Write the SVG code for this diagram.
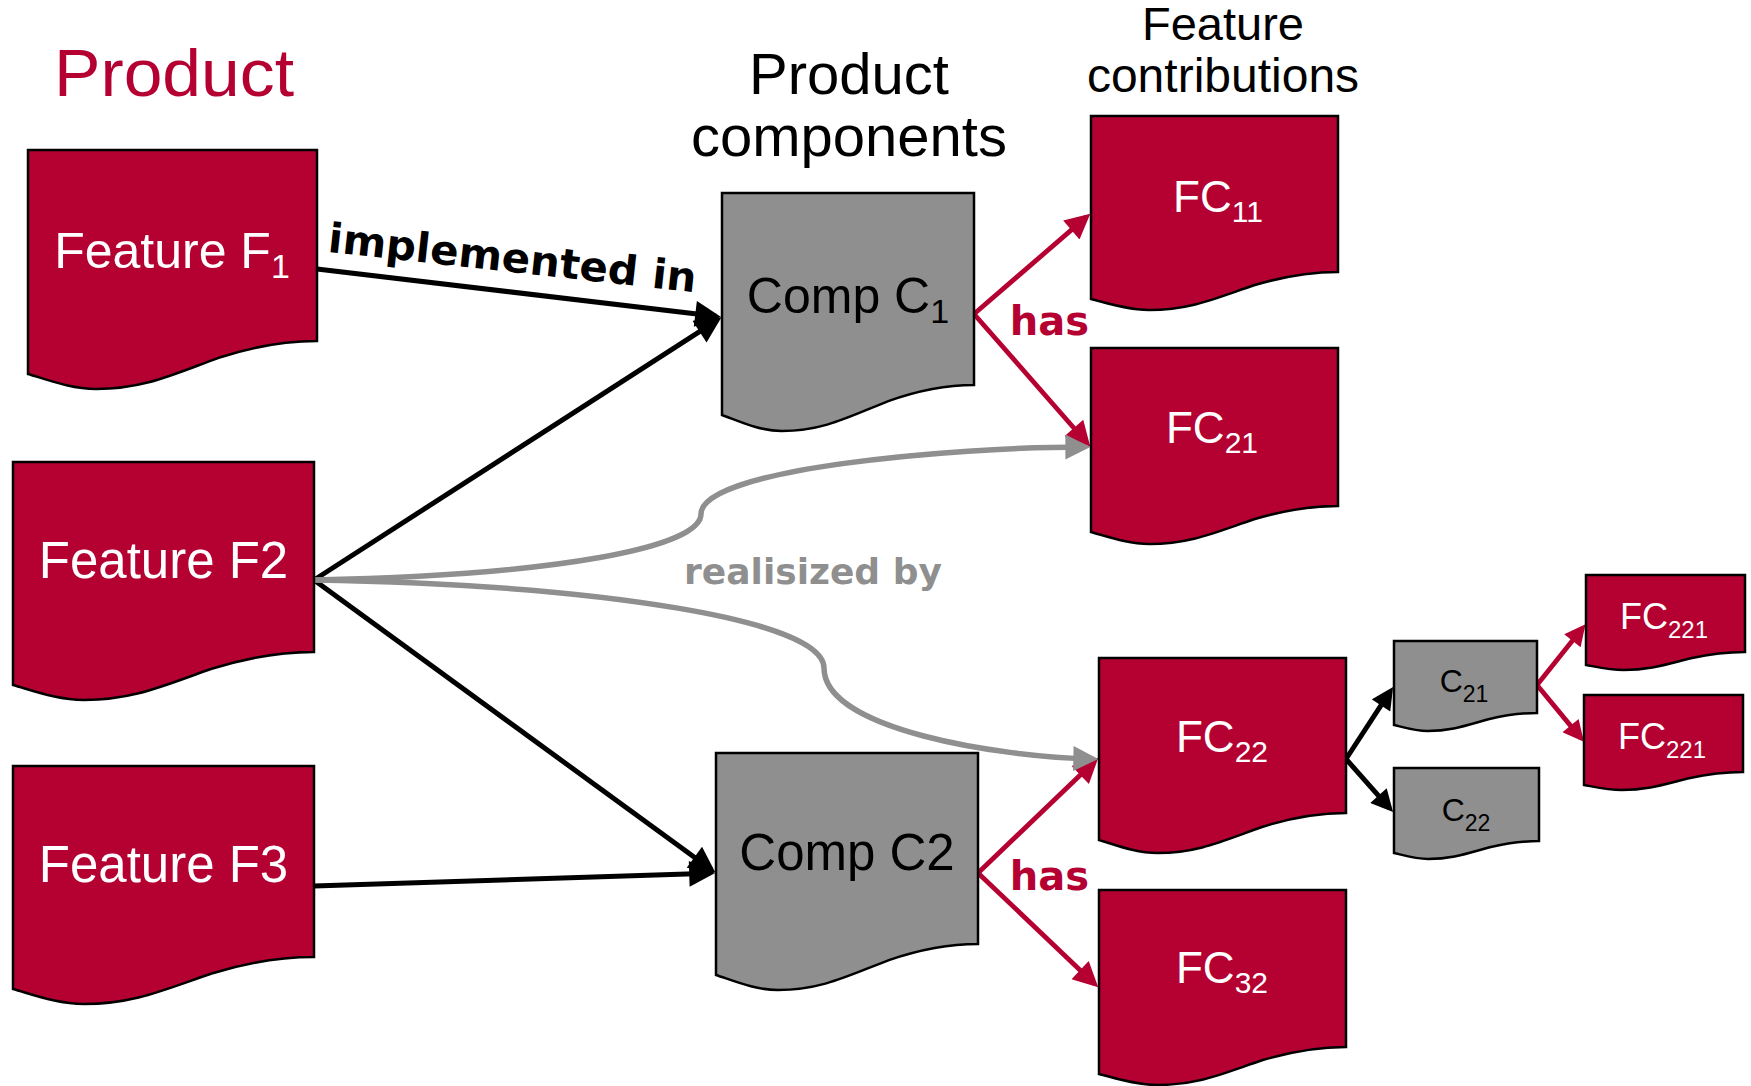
<svg xmlns="http://www.w3.org/2000/svg" width="1751" height="1086" viewBox="0 0 1751 1086">
<style>
.red{fill:#B50032;stroke:#000;stroke-width:2.5}
.gry{fill:#8F8F8F;stroke:#000;stroke-width:2.5}
.t{font-family:"Liberation Sans",Arial,sans-serif;text-anchor:middle}
.w{fill:#fff}
.k{fill:#000}
.lb{font-family:"DejaVu Sans",Verdana,sans-serif;font-weight:bold;text-anchor:middle}
.cb{stroke:#000;stroke-width:5;fill:none}
.cr{stroke:#B50032;stroke-width:4.8;fill:none}
.cg{stroke:#8F8F8F;stroke-width:5.5;fill:none}
</style>
<defs>
<marker id="abL" viewBox="0 0 10 10" refX="8" refY="5" markerWidth="30" markerHeight="26" markerUnits="userSpaceOnUse" orient="auto"><path d="M0,0 L10,5 L0,10 Z" fill="#000"/></marker>
<marker id="abS" viewBox="0 0 10 10" refX="7.7" refY="5" markerWidth="24" markerHeight="22" markerUnits="userSpaceOnUse" orient="auto"><path d="M0,0 L10,5 L0,10 Z" fill="#000"/></marker>
<marker id="arL" viewBox="0 0 10 10" refX="8" refY="5" markerWidth="30" markerHeight="25" markerUnits="userSpaceOnUse" orient="auto"><path d="M0,0 L10,5 L0,10 Z" fill="#B50032"/></marker>
<marker id="arS" viewBox="0 0 10 10" refX="7.7" refY="5" markerWidth="24" markerHeight="21" markerUnits="userSpaceOnUse" orient="auto"><path d="M0,0 L10,5 L0,10 Z" fill="#B50032"/></marker>
<marker id="ag" viewBox="0 0 10 10" refX="7.86" refY="5" markerWidth="28" markerHeight="25" markerUnits="userSpaceOnUse" orient="auto"><path d="M0,0 L10,5 L0,10 Z" fill="#8F8F8F"/></marker>
</defs>

<g id="titles">
<text x="54" y="96" font-family="Liberation Sans, Arial, sans-serif" font-size="66" fill="#B50032" textLength="240" lengthAdjust="spacingAndGlyphs">Product</text>
<text class="t k" x="849" y="94" font-size="58">Product</text>
<text class="t k" x="849" y="156" font-size="58">components</text>
<text class="t k" x="1223" y="40" font-size="47">Feature</text>
<text class="t k" x="1223" y="92" font-size="48">contributions</text>
</g>

<g id="connectors">
<path class="cb" d="M317,269 L716,316.3" marker-end="url(#abL)"/>
<path class="cb" d="M314,580 L717,320.3" marker-end="url(#abL)"/>
<path class="cb" d="M314,580 L711.2,869.5" marker-end="url(#abL)"/>
<path class="cb" d="M314,886 L710,873.2" marker-end="url(#abL)"/>
<path class="cr" d="M974,314 L1086.5,216.9" marker-end="url(#arL)"/>
<path class="cr" d="M974,314 L1087,443" marker-end="url(#arL)"/>
<path class="cr" d="M978,873 L1094.7,761.2" marker-end="url(#arL)"/>
<path class="cr" d="M978,873 L1094.6,983.9" marker-end="url(#arL)"/>
<path class="cg" d="M314,580 C560,575 701,547 701,514 C701,469 950,447 1085,447" marker-end="url(#ag)"/>
<path class="cg" d="M314,580 C600,585 824,620 824,668 C824,730 1000,757 1093,758.9" marker-end="url(#ag)"/>
<path class="cb" d="M1346,759 L1390.3,691.2" marker-end="url(#abS)"/>
<path class="cb" d="M1346,759 L1389.7,808.3" marker-end="url(#abS)"/>
<path class="cr" d="M1537,685 L1582.5,628.1" marker-end="url(#arS)"/>
<path class="cr" d="M1537,685 L1580.8,738.1" marker-end="url(#arS)"/>
<text class="lb" x="511" y="272" font-size="41" transform="rotate(6.3 511 272)" fill="#000" textLength="370" lengthAdjust="spacingAndGlyphs">implemented in</text>
<text class="lb" x="1049.5" y="335" font-size="40" fill="#B50032">has</text>
<text class="lb" x="1049.5" y="890" font-size="40" fill="#B50032">has</text>
<text class="lb" x="813" y="584" font-size="36" fill="#8F8F8F">realisized by</text>
</g>

<g id="F1">
<path class="red" d="M28,150 H317 V341 C288,341 259,344.6 218.7,357.8 C172.5,374.6 143.6,389 96.2,389 C71.4,389 48.2,380 28,374 Z"/>
<text class="t w" x="172" y="268" font-size="50">Feature F<tspan font-size="34" dy="10">1</tspan></text>
</g>
<g id="F2">
<path class="red" d="M13,462 H314 V652 C283.9,652 253.8,655.6 211.7,668.8 C163.5,685.6 133.4,700 84,700 C58.2,700 34.1,691 13,685 Z"/>
<text class="t w" x="163.5" y="578" font-size="51">Feature F2</text>
</g>
<g id="F3">
<path class="red" d="M13,766 H314 V957 C283.9,957 253.8,960.5 211.7,973.5 C163.5,989.9 133.4,1004 84,1004 C58.2,1004 34.1,995 13,989 Z"/>
<text class="t w" x="163.5" y="882" font-size="51">Feature F3</text>
</g>
<g id="C1">
<path class="gry" d="M722,193 H974 V385 C948.8,385 923.6,388.5 888.3,401.1 C848,417.2 822.8,431 781.5,431 C759.8,431 739.6,421.4 722,415 Z"/>
<text class="t k" x="848" y="313" font-size="50">Comp C<tspan font-size="34" dy="10">1</tspan></text>
</g>
<g id="C2">
<path class="gry" d="M716,753 H978 V944 C951.8,944 925.6,947.5 888.9,960.1 C847,976.2 820.8,990 777.8,990 C755.3,990 734.3,981 716,975 Z"/>
<text class="t k" x="847" y="870" font-size="51">Comp C2</text>
</g>
<g id="FC11">
<path class="red" d="M1091,116 H1338 V272 C1313.3,272 1288.6,274.9 1254,285.3 C1214.5,298.6 1189.8,310 1149.3,310 C1128,310 1108.3,303.4 1091,299 Z"/>
<text class="t w" x="1218" y="212" font-size="44">FC<tspan font-size="30" dy="10">11</tspan></text>
</g>
<g id="FC21">
<path class="red" d="M1091,348 H1338 V506 C1313.3,506 1288.6,508.9 1254,519.3 C1214.5,532.6 1189.8,544 1149.3,544 C1128,544 1108.3,536.8 1091,532 Z"/>
<text class="t w" x="1212" y="443" font-size="44">FC<tspan font-size="30" dy="10">21</tspan></text>
</g>
<g id="FC22">
<path class="red" d="M1099,658 H1346 V813 C1321.3,813 1296.6,816 1262,827 C1222.5,841 1197.8,853 1157.3,853 C1136,853 1116.3,845.2 1099,840 Z"/>
<text class="t w" x="1222" y="752" font-size="44">FC<tspan font-size="30" dy="10">22</tspan></text>
</g>
<g id="FC32">
<path class="red" d="M1099,890 H1346 V1047 C1321.3,1047 1296.6,1049.9 1262,1060.3 C1222.5,1073.6 1197.8,1085 1157.3,1085 C1136,1085 1116.3,1078.4 1099,1074 Z"/>
<text class="t w" x="1222" y="983" font-size="44">FC<tspan font-size="30" dy="10">32</tspan></text>
</g>
<g id="C21">
<path class="gry" d="M1394,641 H1537 V713 C1522.7,713 1508.4,714.4 1488.4,719.3 C1465.5,725.6 1451.2,731 1427.7,731 C1415.5,731 1404,727.4 1394,725 Z"/>
<text class="t k" x="1464" y="692" font-size="32">C<tspan font-size="23" dy="10">21</tspan></text>
</g>
<g id="C22">
<path class="gry" d="M1394,768 H1539 V841 C1524.5,841 1510,842.4 1489.7,847.3 C1466.5,853.6 1452,859 1428.2,859 C1415.8,859 1404.2,855.4 1394,853 Z"/>
<text class="t k" x="1466" y="821" font-size="32">C<tspan font-size="23" dy="10">22</tspan></text>
</g>
<g id="FC221a">
<path class="red" d="M1586,575 H1745 V652 C1729.1,652 1713.2,653.4 1690.9,658.3 C1665.5,664.6 1649.6,670 1623.5,670 C1609.9,670 1597.1,667 1586,665 Z"/>
<text class="t w" x="1664" y="629" font-size="36">FC<tspan font-size="24" dy="9">221</tspan></text>
</g>
<g id="FC221b">
<path class="red" d="M1584,695 H1743 V772 C1727.1,772 1711.2,773.4 1688.9,778.3 C1663.5,784.6 1647.6,790 1621.5,790 C1607.9,790 1595.1,787 1584,785 Z"/>
<text class="t w" x="1662" y="749" font-size="36">FC<tspan font-size="24" dy="9">221</tspan></text>
</g>
</svg>
